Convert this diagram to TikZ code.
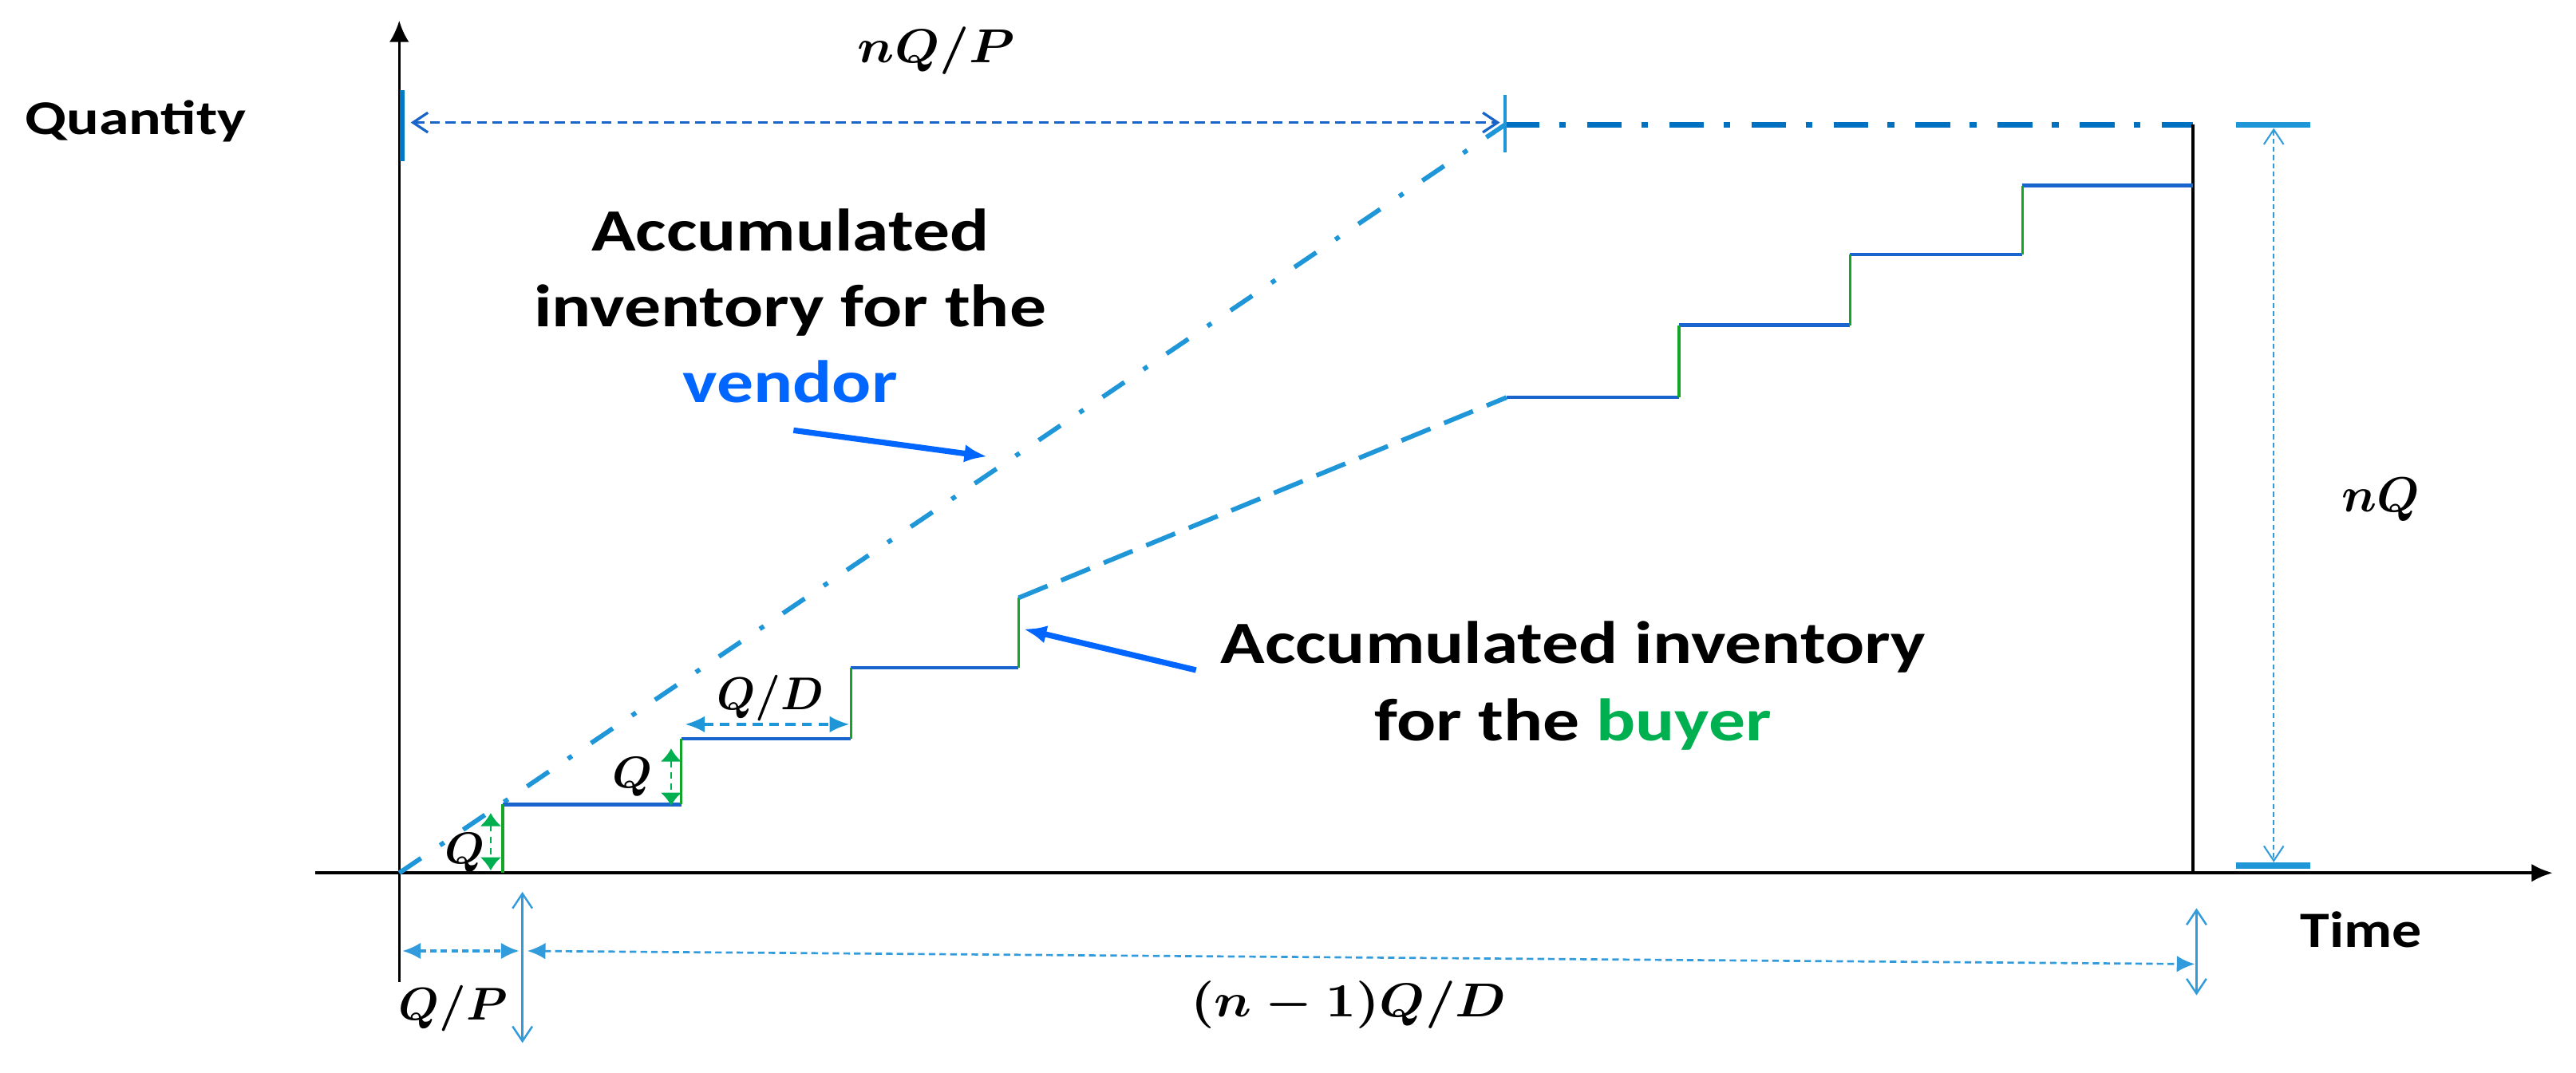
\documentclass[tikz,border=0pt]{standalone}
\usepackage{amsmath}
\usepackage[no-math]{fontspec}
\setmainfont{Carlito}
\usepackage{graphicx}
\usetikzlibrary{arrows.meta}
\definecolor{vendortext}{RGB}{0,102,255}
\definecolor{buyertext}{RGB}{0,176,80}
\definecolor{stepblue}{RGB}{25,100,205}
\definecolor{risegreen}{RGB}{20,165,40}
\definecolor{lightblue}{RGB}{30,150,215}
\definecolor{topblue}{RGB}{0,112,192}
\definecolor{arrowblue}{RGB}{25,100,200}
\definecolor{dimblue}{RGB}{50,155,220}
\definecolor{tickblue}{RGB}{0,120,200}
\definecolor{qgreen}{RGB}{0,176,80}
\newcommand\hstretch[2]{\scalebox{#1}[1]{#2}}
\newcommand\mlab[3]{\scalebox{#1}[#2]{$#3$}}
\tikzset{
  axisline/.style={black, line width=#1},
  vendorline/.style={lightblue, line width=2.8pt, dash pattern=on 16pt off 14pt on 3pt off 14pt},
  topline/.style={topblue, line width=3.8pt, dash pattern=on 21pt off 12pt on 4pt off 13pt},
  buyerdash/.style={lightblue, line width=2.8pt, dash pattern=on 19pt off 9pt},
  stephor/.style={stepblue, line width=2.1pt},
  steprise/.style={risegreen, line width=1.5pt},
  pointer/.style={vendortext, line width=3.5pt, -{Latex[length=14pt,width=11pt]}},
  ticklb/.style={lightblue, line width=#1},
  openarrows/.style={<->, >={Straight Barb[length=9pt,width=12pt]}},
  qarrow/.style={qgreen, line width=1.3pt, dash pattern=on 4pt off 3pt, <->, >={Latex[length=8pt,width=13pt]}},
  lbl/.style={inner sep=0pt, font=\normalsize\boldmath},
  txt/.style 2 args={inner sep=0pt, font=\fontsize{#1}{#2}\selectfont\bfseries},
}
\begin{document}
\begin{tikzpicture}[x=1pt,y=-1pt]
\useasboundingbox (0,0) rectangle (1568,653.33);
% key coordinates
\coordinate (O) at (243,531.5);
\coordinate (ybot) at (243,598);
\coordinate (ytop) at (243,12.6);
\coordinate (xleft) at (192,531.5);
\coordinate (xtip) at (1554,531.5);
\coordinate (V) at (916,76);
\coordinate (E) at (1335,76);
\coordinate (Eb) at (1335,531.5);
% axes
\draw[axisline=1.4pt, -{Latex[length=13pt,width=12pt]}] (ybot) -- (ytop);
\draw[axisline=2.2pt, -{Latex[length=13pt,width=11pt]}] (xleft) -- (xtip);
% vendor lines
\draw[vendorline] (O) -- (V);
\draw[topline] (V) -- (E);
\draw[axisline=2pt] (E) -- (Eb);
% buyer staircase
\coordinate (s0) at (306,531.5);
\coordinate (s1) at (306,489.8);
\coordinate (s2) at (414.8,489.8);
\coordinate (s3) at (414.8,449.8);
\coordinate (s4) at (518,449.8);
\coordinate (s5) at (518,406.6);
\coordinate (s6) at (620,406.6);
\coordinate (s7) at (620,364);
\coordinate (b0) at (917,242);
\coordinate (b1) at (1022,242);
\coordinate (b2) at (1022,198);
\coordinate (b3) at (1126,198);
\coordinate (b4) at (1126,155);
\coordinate (b5) at (1231,155);
\coordinate (b6) at (1231,113);
\coordinate (b7) at (1335,113);
\draw[stephor] (s1) -- (s2);
\draw[stephor] (s3) -- (s4);
\draw[stephor] (s5) -- (s6);
\draw[stephor] (b0) -- (b1);
\draw[stephor] (b2) -- (b3);
\draw[stephor] (b4) -- (b5);
\draw[stephor] (b6) -- (b7);
\draw[steprise] (s0) -- (s1);
\draw[steprise] (s2) -- (s3);
\draw[steprise] (s4) -- (s5);
\draw[steprise] (s6) -- (s7);
\draw[steprise] (b1) -- (b2);
\draw[steprise] (b3) -- (b4);
\draw[steprise] (b5) -- (b6);
\draw[buyerdash] (s7) -- (b0);
% ticks
\coordinate (yt1) at (245,55);
\coordinate (yt2) at (245,98);
\draw[tickblue, line width=3pt] (yt1) -- (yt2);
\coordinate (vt1) at (916,58);
\coordinate (vt2) at (916,93);
\draw[ticklb=2.2pt] (vt1) -- (vt2);
% nQ/P arrow
\coordinate (p1) at (250,74.6);
\coordinate (p2) at (913,74.6);
\draw[arrowblue, line width=1.6pt, dash pattern=on 6pt off 3.5pt, openarrows] (p1) -- (p2);
% nQ dimension
\coordinate (t1a) at (1361,76);
\coordinate (t1b) at (1406,76);
\coordinate (t2a) at (1361,527);
\coordinate (t2b) at (1406,527);
\draw[ticklb=3.5pt] (t1a) -- (t1b);
\draw[ticklb=3.5pt] (t2a) -- (t2b);
\coordinate (n1) at (1384,78);
\coordinate (n2) at (1384,525);
\draw[dimblue, line width=1pt, dash pattern=on 3pt off 2pt, openarrows] (n1) -- (n2);
% bottom dimensions
\coordinate (qp1) at (245,579);
\coordinate (qp2) at (316,579);
\draw[dimblue, line width=1.5pt, dash pattern=on 4pt off 2.5pt, <->, >={Latex[length=11pt,width=10pt]}] (qp1) -- (qp2);
\coordinate (v1a) at (318,543);
\coordinate (v1b) at (318,635);
\draw[dimblue, line width=1.2pt, openarrows] (v1a) -- (v1b);
\coordinate (l1) at (321,579);
\coordinate (l2) at (1336,587);
\draw[dimblue, line width=1.3pt, dash pattern=on 4pt off 2.5pt, <->, >={Latex[length=11pt,width=10pt]}] (l1) -- (l2);
\coordinate (v2a) at (1337,553);
\coordinate (v2b) at (1337,606);
\draw[dimblue, line width=1.2pt, openarrows] (v2a) -- (v2b);
% Q/D arrow
\coordinate (qd1) at (417,441);
\coordinate (qd2) at (517,441);
\draw[lightblue, line width=1.6pt, dash pattern=on 6pt off 4pt, <->, >={Latex[length=12pt,width=10pt]}] (qd1) -- (qd2);
% green Q arrows
\coordinate (g1a) at (298.7,495);
\coordinate (g1b) at (298.7,530);
\coordinate (g2a) at (408.5,455.7);
\coordinate (g2b) at (408.5,490.6);
\draw[qarrow] (g1a) -- (g1b);
\draw[qarrow] (g2a) -- (g2b);
% pointers
\coordinate (vp1) at (483,262);
\coordinate (vp2) at (601,278);
\draw[pointer] (vp1) -- (vp2);
\coordinate (bp1) at (728,408);
\coordinate (bp2) at (623,383);
\draw[pointer] (bp1) -- (bp2);
% texts
\node[txt={29.5}{36}, anchor=base west] (quantity) at (15,82) {\hstretch{1.25}{Quantity}};
\node[txt={31}{38}, anchor=base west] (time) at (1400,577) {\hstretch{1.16}{Time}};
\node[txt={36.5}{46}, anchor=base] (vendorlabel) at (481,153)
  {\hstretch{1.22}{\begin{tabular}[t]{@{}c@{}}Accumulated\\inventory for the\\\textcolor{vendortext}{vendor}\end{tabular}}};
\node[txt={36.5}{47}, anchor=base] (buyerlabel) at (957.5,404)
  {\hstretch{1.22}{\begin{tabular}[t]{@{}c@{}}Accumulated inventory\\for the \textcolor{buyertext}{buyer}\end{tabular}}};
% math labels
\node[lbl] (nqp) at (570,31) {\mlab{3.15}{2.9}{nQ/P}};
\node[lbl] (q1) at (283,519) {\mlab{2.8}{2.7}{Q}};
\node[lbl] (q2) at (385,473) {\mlab{2.8}{2.7}{Q}};
\node[lbl] (qd) at (469,425) {\mlab{2.7}{2.8}{Q/D}};
\node[lbl] (qp) at (276,614) {\mlab{2.85}{2.8}{Q/P}};
\node[lbl] (nqd) at (821,612) {\mlab{3.2}{2.9}{(n-1)Q/D}};
\node[lbl] (nq) at (1449,304) {\mlab{3}{3}{nQ}};
\end{tikzpicture}
\end{document}
